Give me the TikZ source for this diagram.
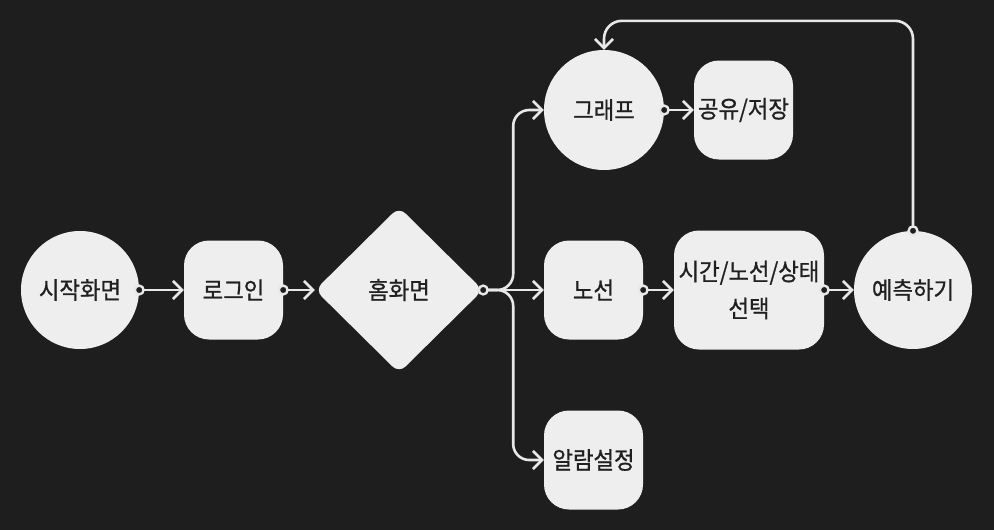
\documentclass[tikz,border=0pt]{standalone}
\usepackage{fontspec}
\setmainfont{Noto Sans CJK KR}[FakeStretch=0.93, FakeBold=0.8]
\usetikzlibrary{shapes.geometric,arrows.meta}
\definecolor{bg}{HTML}{1E1E1E}
\definecolor{boxfill}{HTML}{EEEEEE}
\definecolor{ink}{HTML}{202020}
\definecolor{wire}{HTML}{E8E8E8}
\newcommand\portdot[1]{\draw[wire, line width=2.4pt, fill=bg] (#1) circle (4.4pt);}
\begin{document}
\begin{tikzpicture}[x=1pt,y=-1pt,
  label/.style={text=ink, font=\fontsize{24}{37}\selectfont, align=center, inner sep=0pt},
  roundnode/.style={label, circle, fill=boxfill, minimum size=118pt},
  card/.style={label, fill=boxfill, rounded corners=25pt, minimum width=99pt, minimum height=99pt},
  hub/.style={label, diamond, aspect=1, fill=boxfill, rounded corners=9pt, minimum width=168pt, minimum height=166pt},
  link/.style={draw=wire, line width=2.6pt, -{Straight Barb[length=9pt,width=18pt]}}]
  \fill[bg] (0,0) rectangle (994,530);

  % screens
  \node[roundnode] (start) at (80,290) {시작화면};
  \node[card] (login) at (233.5,290) {로그인};
  \node[hub] (home) at (399,290) {홈화면};
  \node[roundnode, minimum size=120pt] (graph) at (604,110) {그래프};
  \node[card] (share) at (743.5,110) {공유/저장};
  \node[card] (route) at (593.5,290) {노선};
  \node[card, minimum width=150pt, minimum height=119pt] (select) at (749,290) {시간/노선/상태\\선택};
  \node[roundnode] (predict) at (913,290) {예측하기};
  \node[card] (alarm) at (593.5,460) {알람설정};

  % flow
  \draw[link] (start.east) -- (login.west);
  \draw[link] (login.east) -- (home.west);
  \draw[link] (home.east) -- (route.west);
  \draw[link, rounded corners=16pt] (home.east) -- ++(30,0) |- (graph.west);
  \draw[link, rounded corners=16pt] (home.east) -- ++(30,0) |- (alarm.west);
  \draw[link] (graph.east) -- (share.west);
  \draw[link] (route.east) -- (select.west);
  \draw[link] (select.east) -- (predict.west);
  \draw[link, rounded corners=18pt] (predict.north) -- ++(0,-210) -| (graph.north);

  % outgoing ports
  \portdot{start.east}
  \portdot{login.east}
  \portdot{home.east}
  \portdot{graph.east}
  \portdot{route.east}
  \portdot{select.east}
  \portdot{predict.north}
\end{tikzpicture}
\end{document}
